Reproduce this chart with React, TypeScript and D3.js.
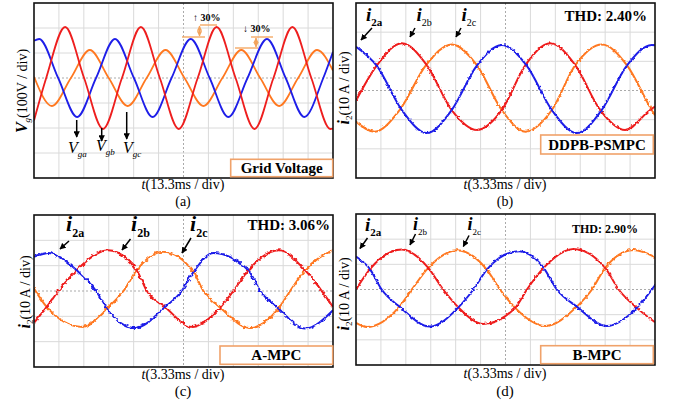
import React from 'react';
import * as d3 from 'd3';

type Pt = [number, number];

// ---------- (a) grid voltage, x & y in oscilloscope divisions ----------
const aVga: Pt[] = [[0,1.49],[0.21,1.56],[0.97,0],[1.73,-1.56],[2.49,0],[3.25,1.56],[4.01,0],[4.76,-1.56],[5.52,0],[6.29,1.56],[7.05,0],[7.8,-1.56],[8.57,0],[9.35,1.56],[10.1,0],[10.85,-1.56],[11.61,0],[12,1.05]];
const aVgb: Pt[] = [[0,-1.7],[0.49,0],[1.25,2.04],[2.01,0],[2.77,-2.04],[3.53,0],[4.29,2.04],[5.05,0],[5.81,-2.04],[6.57,0],[7.33,2.04],[8.09,0],[8.85,-2.04],[9.61,0],[10.37,2.04],[11.13,0],[11.89,-2.04],[12,-2.02]];
const aVgc: Pt[] = [[0,0.05],[0.72,-1.12],[1.48,0],[2.24,1.12],[3.0,0],[3.76,-1.12],[4.52,0],[5.28,1.12],[6.04,0],[6.8,-1.12],[7.56,0],[8.32,1.12],[9.08,0],[9.84,-1.12],[10.6,0],[11.36,1.12],[12,0.3]];

// ---------- (b) DDPB-PSMPC ----------
const bI2a: Pt[] = [[0,1.5],[0.83,0.85],[1.84,-0.67],[2.84,-1.46],[3.84,-0.67],[4.85,0.85],[5.85,1.56],[6.85,0.85],[7.86,-0.67],[8.86,-1.46],[9.86,-0.67],[10.87,0.85],[11.87,1.56],[12,1.55]];
const bI2b: Pt[] = [[0,-0.35],[0.83,0.85],[1.84,1.62],[2.84,0.87],[3.84,-0.67],[4.85,-1.35],[5.85,-0.67],[6.8,0.87],[7.8,1.62],[8.8,0.87],[9.8,-0.67],[10.8,-1.35],[11.8,-0.67],[12,-0.55]];
const bI2c: Pt[] = [[0,-1.07],[0.75,-1.41],[1.75,-0.67],[2.81,0.87],[3.84,1.58],[4.85,0.87],[5.85,-0.67],[6.8,-1.41],[7.86,-0.67],[8.8,0.87],[9.87,1.58],[10.87,0.87],[11.87,-0.67],[12,-0.85]];

// ---------- (c) A-MPC ----------
const cI2a: Pt[] = [[0,1.35],[0.56,1.5],[1.71,0.82],[2.49,0],[2.92,-0.69],[4.06,-1.46],[5.26,-0.63],[5.93,0],[6.4,0.75],[7.2,1.5],[8.6,0.82],[9.08,0],[9.81,-0.69],[10.88,-1.48],[12,-0.76]];
const cI2b: Pt[] = [[0,-1.26],[0.51,-0.63],[0.98,0],[1.71,0.82],[2.98,1.61],[4.12,0.82],[4.53,0],[5.26,-0.63],[6.33,-1.42],[7.47,-0.65],[8.0,0],[8.6,0.82],[9.81,1.61],[10.88,0.82],[12,-0.63]];
const cI2c: Pt[] = [[0,0.1],[0.51,-0.63],[1.92,-1.42],[2.92,-0.69],[3.59,0],[4.12,0.82],[5.19,1.55],[6.4,0.75],[6.8,0],[7.47,-0.65],[8.67,-1.46],[9.81,-0.69],[10.28,0],[10.88,0.82],[12,1.61]];

// ---------- (d) B-MPC ----------
const dI2a: Pt[] = [[0,1.31],[0.56,0.81],[1.03,0],[1.74,-0.68],[2.97,-1.47],[4.11,-0.71],[4.71,0],[5.25,0.79],[6.52,1.52],[7.53,0.86],[8.06,0],[8.86,-0.68],[10.07,-1.45],[11.27,-0.73],[12,0.17]];
const dI2b: Pt[] = [[0,0],[0.56,0.81],[1.84,1.59],[2.9,0.86],[3.5,0],[4.11,-0.71],[5.11,-1.37],[6.39,-0.73],[6.86,0],[7.53,0.86],[8.73,1.61],[10.0,0.86],[10.54,0],[11.27,-0.73],[12,-1.3]];
const dI2c: Pt[] = [[0,-1.33],[0.43,-1.49],[1.74,-0.68],[2.24,0],[2.9,0.86],[4.05,1.56],[5.25,0.79],[5.78,0],[6.39,-0.73],[7.59,-1.45],[8.86,-0.68],[9.47,0],[10.0,0.86],[11.14,1.57],[12,1.29]];

const X_DIVS = [0, 12];
const PEAK_GAIN = ['↑ 30%', '↓ 30%'];
const THD = ['THD: 2.40%', 'THD: 3.06%', 'THD: 2.90%'];
const METHODS = ['Grid Voltage', 'DDPB-PSMPC', 'A-MPC', 'B-MPC'];
const X_LABELS = ['(13.3ms / div)', '(3.33ms / div)'];
const CAPTIONS = ['(a)', '(b)', '(c)', '(d)'];

const C_BLUE = '#1e1ee8';
const C_RED = '#ee1e1e';
const C_ORANGE = '#ff7820';
const C_BOX = '#f0a26a';
const C_GRID = '#dadada';
const FONT = "'Liberation Serif', 'Times New Roman', serif";

interface PanelCfg {
  id: string;
  x0: number; x1: number; y0: number; y1: number;
  yMin: number; yMax: number;
  series: { data: Pt[]; color: string }[];
  sw: number;
  filter: string | null;
}

const panels: PanelCfg[] = [
  { id: 'a', x0: 34, x1: 333, y0: 3, y1: 178, yMin: -4, yMax: 3, sw: 1.8, filter: null,
    series: [{ data: aVgc, color: C_ORANGE }, { data: aVga, color: C_BLUE }, { data: aVgb, color: C_RED }] },
  { id: 'b', x0: 356, x1: 655, y0: 3, y1: 178, yMin: -3, yMax: 3, sw: 2, filter: 'url(#nz1)',
    series: [{ data: bI2c, color: C_ORANGE }, { data: bI2b, color: C_RED }, { data: bI2a, color: C_BLUE }] },
  { id: 'c', x0: 34, x1: 333, y0: 215, y1: 367, yMin: -3, yMax: 3, sw: 2, filter: 'url(#nz2)',
    series: [{ data: cI2c, color: C_ORANGE }, { data: cI2b, color: C_RED }, { data: cI2a, color: C_BLUE }] },
  { id: 'd', x0: 356, x1: 655, y0: 214, y1: 365, yMin: -3, yMax: 3, sw: 2, filter: 'url(#nz3)',
    series: [{ data: dI2c, color: C_ORANGE }, { data: dI2b, color: C_RED }, { data: dI2a, color: C_BLUE }] },
];

function Scope({ cfg }: { cfg: PanelCfg }) {
  const x = d3.scaleLinear().domain(X_DIVS).range([cfg.x0, cfg.x1]);
  const y = d3.scaleLinear().domain([cfg.yMin, cfg.yMax]).range([cfg.y1, cfg.y0]);
  const line = d3.line<Pt>().x(d => x(d[0])).y(d => y(d[1])).curve(d3.curveMonotoneX);
  const vx = d3.range(X_DIVS[0] + 1, X_DIVS[1]);
  const hy = d3.range(cfg.yMin + 1, cfg.yMax);
  return (
    <g>
      <defs>
        <clipPath id={'clip' + cfg.id}>
          <rect x={cfg.x0} y={cfg.y0} width={cfg.x1 - cfg.x0} height={cfg.y1 - cfg.y0} />
        </clipPath>
      </defs>
      <rect x={cfg.x0} y={cfg.y0} width={cfg.x1 - cfg.x0} height={cfg.y1 - cfg.y0} fill="#fff" />
      {vx.map(v => (
        <line key={'v' + v} x1={x(v)} x2={x(v)} y1={cfg.y0} y2={cfg.y1}
          stroke={v === 6 ? '#aaa' : C_GRID} strokeWidth={1} strokeDasharray={v === 6 ? '2,2' : undefined} />
      ))}
      {hy.map(v => (
        <line key={'h' + v} x1={cfg.x0} x2={cfg.x1} y1={y(v)} y2={y(v)}
          stroke={v === 0 ? '#aaa' : C_GRID} strokeWidth={1} strokeDasharray={v === 0 ? '2,2' : undefined} />
      ))}
      <g clipPath={`url(#clip${cfg.id})`}>
        {cfg.series.map((s, i) => (
          <path key={i} d={line(s.data) || ''} fill="none" stroke={s.color} strokeWidth={cfg.sw}
            strokeLinejoin="round" filter={cfg.filter || undefined} />
        ))}
      </g>
      <rect x={cfg.x0} y={cfg.y0} width={cfg.x1 - cfg.x0} height={cfg.y1 - cfg.y0} fill="none" stroke="#111" strokeWidth={1.6} />
    </g>
  );
}

function Arrow({ x1, y1, x2, y2, w = 1.4 }: { x1: number; y1: number; x2: number; y2: number; w?: number }) {
  return <line x1={x1} y1={y1} x2={x2} y2={y2} stroke="#000" strokeWidth={w} markerEnd="url(#ah)" />;
}

function ILabel({ x, y, sub, size, subSize, subBold = true, arrow }: { x: number; y: number; sub: string; size: number; subSize: number; subBold?: boolean; arrow: [number, number, number, number] }) {
  return (
    <g>
      <text x={x} y={y} fontFamily={FONT} fontSize={size} fontWeight="bold" fontStyle="italic">
        i<tspan fontSize={subSize} fontStyle="normal" fontWeight={subBold ? 'bold' : 'normal'} dy={size * 0.28}>{sub}</tspan>
      </text>
      <Arrow x1={arrow[0]} y1={arrow[1]} x2={arrow[2]} y2={arrow[3]} w={1.5} />
    </g>
  );
}

function VgLabel({ x, y, sub, ax, ay1, ay2 }: { x: number; y: number; sub: string; ax: number; ay1: number; ay2: number }) {
  return (
    <g>
      <line x1={ax} x2={ax} y1={ay1} y2={ay2} stroke="#000" strokeWidth={1.5} markerEnd="url(#ah)" />
      <text x={x} y={y} fontFamily={FONT} fontSize={16} fontStyle="italic">
        V<tspan fontSize={9} dy={4}>{sub}</tspan>
      </text>
    </g>
  );
}

function Box({ x, y, w, h, label, fs }: { x: number; y: number; w: number; h: number; label: string; fs: number }) {
  return (
    <g>
      <rect x={x} y={y} width={w} height={h} fill="#fff" stroke={C_BOX} strokeWidth={1.6} />
      <text x={x + w / 2} y={y + h - 4} textAnchor="middle" fontFamily={FONT} fontSize={fs} fontWeight="bold">{label}</text>
    </g>
  );
}

function YLabel({ x, y, kind }: { x: number; y: number; kind: 'V' | 'i' }) {
  return (
    <text transform={`translate(${x},${y}) rotate(-90)`} textAnchor="middle" fontFamily={FONT} fontSize={14}>
      <tspan fontWeight="bold" fontStyle="italic" fontSize={16}>{kind === 'V' ? 'V' : 'i'}</tspan>
      <tspan fontStyle={kind === 'V' ? 'italic' : 'normal'} fontSize={9} dy={3}>{kind === 'V' ? 'g' : '2'}</tspan>
      <tspan dy={-3}>{kind === 'V' ? '(100V / div)' : '(10 A / div)'}</tspan>
    </text>
  );
}

function XLabel({ x, y, txt }: { x: number; y: number; txt: string }) {
  return (
    <text x={x} y={y} textAnchor="middle" fontFamily={FONT} fontSize={14}>
      <tspan fontStyle="italic">t</tspan>{txt}
    </text>
  );
}

export default function App() {
  const pa = panels[0];
  const ya = d3.scaleLinear().domain([pa.yMin, pa.yMax]).range([pa.y1, pa.y0]);
  const annColor = '#f3a25a';
  return (
    <svg width={674} height={402} style={{ display: 'block', position: 'absolute', left: 0, top: 0 }}>
      <defs>
        <marker id="ah" viewBox="0 0 10 10" refX="9" refY="5" markerWidth="4.2" markerHeight="4.2" orient="auto-start-reverse" markerUnits="strokeWidth">
          <path d="M0,0 L10,5 L0,10 z" fill="#000" />
        </marker>
        <marker id="oa" viewBox="0 0 10 10" refX="9" refY="5" markerWidth="4" markerHeight="4" orient="auto-start-reverse" markerUnits="strokeWidth">
          <path d="M0,0 L10,5 L0,10 z" fill={annColor} />
        </marker>
        <filter id="nz1" x="-2%" y="-10%" width="104%" height="120%">
          <feTurbulence type="fractalNoise" baseFrequency="0.45" numOctaves={1} seed={4} result="t" />
          <feDisplacementMap in="SourceGraphic" in2="t" scale={3} xChannelSelector="R" yChannelSelector="G" />
        </filter>
        <filter id="nz2" x="-2%" y="-10%" width="104%" height="120%">
          <feTurbulence type="fractalNoise" baseFrequency="0.22 0.3" numOctaves={2} seed={7} result="t" />
          <feDisplacementMap in="SourceGraphic" in2="t" scale={4} xChannelSelector="R" yChannelSelector="G" />
        </filter>
        <filter id="nz3" x="-2%" y="-10%" width="104%" height="120%">
          <feTurbulence type="fractalNoise" baseFrequency="0.3 0.4" numOctaves={1} seed={11} result="t" />
          <feDisplacementMap in="SourceGraphic" in2="t" scale={3.2} xChannelSelector="R" yChannelSelector="G" />
        </filter>
      </defs>
      <rect x={0} y={0} width={674} height={402} fill="#fff" />
      {panels.map(p => <Scope key={p.id} cfg={p} />)}

      {/* ---- panel (a) annotations ---- */}
      <text x={193} y={21} fontFamily={FONT} fontSize={10} fontWeight="bold">{PEAK_GAIN[0]}</text>
      <line x1={200} x2={217} y1={ya(2.04) - 2} y2={ya(2.04) - 2} stroke={annColor} strokeWidth={1.3} />
      <line x1={182} x2={205} y1={ya(1.56) - 2} y2={ya(1.56) - 2} stroke={annColor} strokeWidth={1.3} />
      <line x1={199.5} x2={199.5} y1={ya(2.04) - 1} y2={ya(1.56) - 3} stroke={annColor} strokeWidth={1.3} markerStart="url(#oa)" markerEnd="url(#oa)" />
      <text x={243} y={32} fontFamily={FONT} fontSize={10} fontWeight="bold">{PEAK_GAIN[1]}</text>
      <line x1={251} x2={273} y1={ya(1.56) - 2} y2={ya(1.56) - 2} stroke={annColor} strokeWidth={1.3} />
      <line x1={235} x2={258} y1={ya(1.12) - 2} y2={ya(1.12) - 2} stroke={annColor} strokeWidth={1.3} />
      <line x1={256} x2={256} y1={ya(1.56) - 1} y2={ya(1.12) - 3} stroke={annColor} strokeWidth={1.3} markerStart="url(#oa)" markerEnd="url(#oa)" />

      <VgLabel x={68} y={153} sub="ga" ax={76.7} ay1={120} ay2={137} />
      <VgLabel x={96} y={151} sub="gb" ax={101.7} ay1={128} ay2={141} />
      <VgLabel x={123} y={153} sub="gc" ax={126.7} ay1={112} ay2={139} />
      <Box x={230.7} y={159.3} w={102} h={17.4} label={METHODS[0]} fs={15} />
      <YLabel x={27} y={91} kind="V" />
      <XLabel x={183} y={189} txt={X_LABELS[0]} />
      <text x={183} y={206} textAnchor="middle" fontFamily={FONT} fontSize={14}>{CAPTIONS[0]}</text>

      {/* ---- panel (b) ---- */}
      <ILabel x={366} y={21} sub="2a" size={19} subSize={11} arrow={[372, 28, 361, 40]} />
      <ILabel x={416.5} y={21} sub="2b" size={19} subSize={10} subBold={false} arrow={[415, 28, 410, 37]} />
      <ILabel x={461.5} y={21} sub="2c" size={19} subSize={10} subBold={false} arrow={[461, 28, 456, 37]} />
      <text x={647} y={21} textAnchor="end" fontFamily={FONT} fontSize={15} fontWeight="bold">{THD[0]}</text>
      <Box x={540.7} y={135} w={112.6} h={19} label={METHODS[1]} fs={15} />
      <YLabel x={349} y={88} kind="i" />
      <XLabel x={505} y={189} txt={X_LABELS[1]} />
      <text x={505} y={206} textAnchor="middle" fontFamily={FONT} fontSize={14}>{CAPTIONS[1]}</text>

      {/* ---- panel (c) ---- */}
      <ILabel x={66} y={231} sub="2a" size={22} subSize={12} arrow={[69, 241, 60, 249]} />
      <ILabel x={131} y={231} sub="2b" size={22} subSize={12} arrow={[130.5, 239, 122, 250]} />
      <ILabel x={190} y={231} sub="2c" size={22} subSize={12} arrow={[191, 238, 182, 253]} />
      <text x={330} y={230} textAnchor="end" fontFamily={FONT} fontSize={15} fontWeight="bold">{THD[1]}</text>
      <Box x={220} y={346} w={112.7} h={18.3} label={METHODS[2]} fs={15} />
      <YLabel x={30} y={292} kind="i" />
      <XLabel x={183} y={379} txt={X_LABELS[1]} />
      <text x={183} y={396} textAnchor="middle" fontFamily={FONT} fontSize={15}>{CAPTIONS[2]}</text>

      {/* ---- panel (d) ---- */}
      <ILabel x={365} y={231} sub="2a" size={19} subSize={11} arrow={[367.5, 238, 360, 248.5]} />
      <ILabel x={413} y={230} sub="2b" size={18} subSize={9} subBold={false} arrow={[415.5, 234, 410, 245]} />
      <ILabel x={467.5} y={230} sub="2c" size={18} subSize={9} subBold={false} arrow={[469, 235.5, 463.3, 246.5]} />
      <text x={638} y={233} textAnchor="end" fontFamily={FONT} fontSize={12} fontWeight="bold">{THD[2]}</text>
      <Box x={540.7} y={345.7} w={112.6} h={18} label={METHODS[3]} fs={15} />
      <YLabel x={349} y={294} kind="i" />
      <XLabel x={505} y={378} txt={X_LABELS[1]} />
      <text x={505} y={396} textAnchor="middle" fontFamily={FONT} fontSize={15}>{CAPTIONS[3]}</text>
    </svg>
  );
}
